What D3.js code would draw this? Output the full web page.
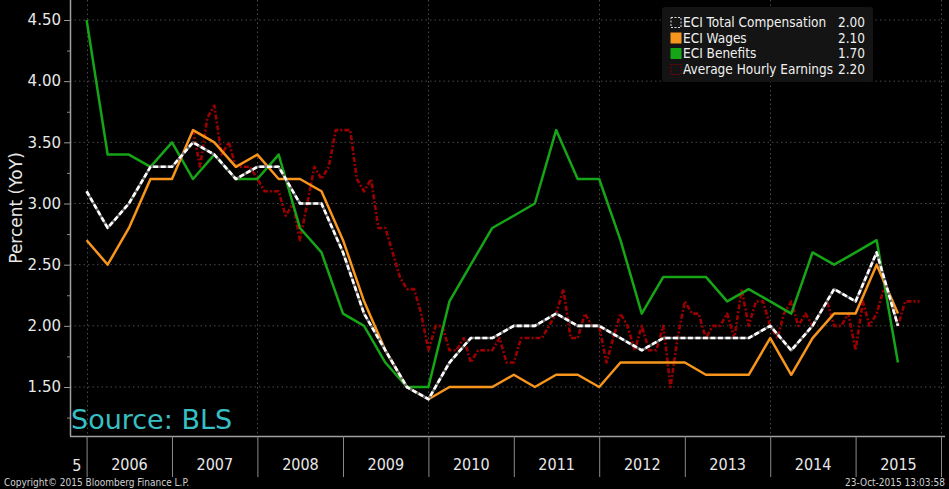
<!DOCTYPE html>
<html><head><meta charset="utf-8">
<script src="https://cdn.jsdelivr.net/npm/d3@7"></script>
<style>
html,body{margin:0;padding:0;background:#000;}
svg{display:block;}
.cond{font-family:"DejaVu Sans Condensed","DejaVu Sans",sans-serif;font-stretch:condensed;}
</style></head><body>
<svg id="c" width="949" height="489"></svg>
<script>
// ---------- data ----------
const eciQuarters = ["2005-12","2006-03","2006-06","2006-09","2006-12","2007-03","2007-06","2007-09","2007-12",
  "2008-03","2008-06","2008-09","2008-12","2009-03","2009-06","2009-09","2009-12","2010-03","2010-06","2010-09",
  "2010-12","2011-03","2011-06","2011-09","2011-12","2012-03","2012-06","2012-09","2012-12","2013-03","2013-06",
  "2013-09","2013-12","2014-03","2014-06","2014-09","2014-12","2015-03","2015-06"];
const totalComp = [3.1,2.8,3.0,3.3,3.3,3.5,3.4,3.2,3.3,3.3,3.0,3.0,2.6,2.1,1.8,1.5,1.4,1.7,1.9,1.9,
  2.0,2.0,2.1,2.0,2.0,1.9,1.8,1.9,1.9,1.9,1.9,1.9,2.0,1.8,2.0,2.3,2.2,2.6,2.0];
const wages = [2.7,2.5,2.8,3.2,3.2,3.6,3.5,3.3,3.4,3.2,3.2,3.1,2.7,2.2,1.8,1.5,1.4,1.5,1.5,1.5,
  1.6,1.5,1.6,1.6,1.5,1.7,1.7,1.7,1.7,1.6,1.6,1.6,1.9,1.6,1.9,2.1,2.1,2.5,2.1];
const benefits = [4.5,3.4,3.4,3.3,3.5,3.2,3.4,3.2,3.2,3.4,2.8,2.6,2.1,2.0,1.7,1.5,1.5,2.2,2.5,2.8,
  2.9,3.0,3.6,3.2,3.2,2.7,2.1,2.4,2.4,2.4,2.2,2.3,2.2,2.1,2.6,2.5,2.6,2.7,1.7];
const aheStartMonth = "2007-03";
const hourlyEarnings = [3.6,3.3,3.7,3.8,3.4,3.5,3.3,3.3,3.3,3.2,
  3.1,3.1,3.1,2.9,3.0,2.7,3.0,3.3,3.2,3.3,3.6,3.6,
  3.6,3.2,3.1,3.2,2.8,2.8,2.6,2.4,2.3,2.3,2.1,1.8,
  2.0,2.0,1.8,1.8,1.9,1.7,1.8,1.8,1.8,1.9,1.7,1.7,
  1.9,1.9,1.9,1.9,2.0,2.1,2.3,1.9,1.9,2.1,2.0,2.0,
  1.7,1.9,2.1,2.0,1.8,2.0,1.8,1.8,2.0,1.5,1.9,2.2,
  2.1,2.1,1.9,2.0,2.0,2.1,1.9,2.3,2.0,2.2,2.2,2.0,
  1.9,2.1,2.2,2.0,2.1,2.0,2.1,2.2,2.0,2.0,2.1,1.8,
  2.2,2.0,2.1,2.3,2.2,2.0,2.2,2.2,2.2];
const seriesNames = ["ECI Total Compensation","ECI Wages","ECI Benefits","Average Hourly Earnings"];
const lastValues = ["2.00","2.10","1.70","2.20"];
const yearLabels = ["2005","2006","2007","2008","2009","2010","2011","2012","2013","2014","2015"];
const yTickLabels = ["1.50","2.00","2.50","3.00","3.50","4.00","4.50"];

// ---------- setup ----------
const W = 949, H = 489;
const plotL = 70, plotB = 436, plotR = 945;
const svg = d3.select("#c");
svg.append("rect").attr("width", W).attr("height", H).attr("fill", "#000");

const parseM = d3.timeParse("%Y-%m");
const monthEnd = s => d3.timeMonth.offset(parseM(s), 1);
const x = d3.scaleTime().domain([new Date(2006,0,1), new Date(2016,0,1)]).range([86.6, 941]);
const y = d3.scaleLinear().domain([1.5, 4.5]).range([387, 20]);

const yTicks = yTickLabels.map(Number);
const yMinor = d3.range(1.25, 4.5, 0.5);

// grid
const grid = svg.append("g");
grid.selectAll("line.h").data(yTicks).join("line")
  .attr("x1", plotL).attr("x2", plotR).attr("y1", d => y(d)).attr("y2", d => y(d))
  .attr("stroke", "#4a4a4a").attr("stroke-width", 1).attr("stroke-dasharray", "1.5,3");
const gridYears = [2006,2008,2010,2012,2014,2016].map(yr => new Date(yr,0,1));
grid.selectAll("line.v").data(gridYears).join("line")
  .attr("x1", d => Math.round(x(d)) + 0.5).attr("x2", d => Math.round(x(d)) + 0.5)
  .attr("y1", 0).attr("y2", plotB)
  .attr("stroke", "#4a4a4a").attr("stroke-width", 1).attr("stroke-dasharray", "1.5,3");

// y axis
const yAxis = svg.append("g").attr("transform", `translate(${plotL},0)`)
  .call(d3.axisLeft(y).tickValues(yTicks).tickSize(6).tickPadding(3).tickFormat((d,i) => yTickLabels[i]));
yAxis.select(".domain").remove();
yAxis.selectAll("line").attr("stroke", "#9a9a9a");
yAxis.selectAll("text").attr("fill", "#e8e8e8").attr("font-size", 15)
  .attr("font-family", "DejaVu Sans, sans-serif");
const yMinorAxis = svg.append("g").attr("transform", `translate(${plotL},0)`)
  .call(d3.axisLeft(y).tickValues(yMinor).tickSize(3).tickFormat(""));
yMinorAxis.select(".domain").remove();
yMinorAxis.selectAll("line").attr("stroke", "#8a8a8a");

svg.append("text").attr("transform", "translate(22,208) rotate(-90)")
  .attr("text-anchor", "middle").attr("fill", "#e8e8e8")
  .attr("font-family", "DejaVu Sans, sans-serif").attr("font-size", 17)
  .text("Percent (YoY)");

// frame lines
svg.append("line").attr("x1", plotL + 0.5).attr("x2", plotL + 0.5).attr("y1", 0).attr("y2", plotB)
  .attr("stroke", "#a0a0a0").attr("stroke-width", 1.5);
svg.append("line").attr("x1", plotL).attr("x2", plotR).attr("y1", plotB + 0.5).attr("y2", plotB + 0.5)
  .attr("stroke", "#a0a0a0").attr("stroke-width", 1.5);

// x axis: year separators
const yearStarts = d3.range(2006, 2017).map(yr => new Date(yr,0,1));
const xSep = svg.append("g").attr("transform", `translate(0,${plotB})`)
  .call(d3.axisBottom(x).tickValues(yearStarts).tickSize(41).tickFormat(""));
xSep.select(".domain").remove();
xSep.selectAll("line").attr("stroke", "#8a8a8a");

// year labels at mid-year (clipped at the left edge of the plot)
svg.append("clipPath").attr("id", "xclip")
  .append("rect").attr("x", 72).attr("y", plotB).attr("width", plotR - 72).attr("height", 45);
const labWrap = svg.append("g").attr("clip-path", "url(#xclip)");
const midYears = yearLabels.map(s => new Date(+s, 6, 1));
const xLab = labWrap.append("g").attr("transform", `translate(0,${plotB})`)
  .call(d3.axisBottom(x).tickValues(midYears.slice(1)).tickSize(0).tickPadding(23)
    .tickFormat((d,i) => yearLabels[i+1]));
xLab.select(".domain").remove();
xLab.selectAll("text").attr("fill", "#e8e8e8").attr("font-size", 16).attr("class", "cond");
labWrap.append("text")
  .attr("x", 81.5).attr("y", plotB + 35).attr("text-anchor", "end")
  .attr("fill", "#e8e8e8").attr("font-size", 16).attr("class", "cond").text(yearLabels[0]);

// ---------- series ----------
const eciDates = eciQuarters.map(monthEnd);
const aheDates = hourlyEarnings.map((v,i) => d3.timeMonth.offset(parseM(aheStartMonth), i + 1));
const line = d3.line().x(d => x(d[0])).y(d => y(d[1]));
const lines = svg.append("g").attr("fill", "none").attr("stroke-linejoin", "round");

lines.append("path").datum(aheDates.map((d,i) => [d, hourlyEarnings[i]]))
  .attr("d", line).attr("stroke", "#9a0000").attr("stroke-width", 2.6)
  .attr("stroke-dasharray", "5,2,2,2");
lines.append("path").datum(eciDates.map((d,i) => [d, benefits[i]]))
  .attr("d", line).attr("stroke", "#16a516").attr("stroke-width", 2.5);
lines.append("path").datum(eciDates.map((d,i) => [d, wages[i]]))
  .attr("d", line).attr("stroke", "#f7951c").attr("stroke-width", 2.5);
lines.append("path").datum(eciDates.map((d,i) => [d, totalComp[i]]))
  .attr("d", line).attr("stroke", "#6e6e6e").attr("stroke-width", 2.6);
lines.append("path").datum(eciDates.map((d,i) => [d, totalComp[i]]))
  .attr("d", line).attr("stroke", "#ffffff").attr("stroke-width", 2.6)
  .attr("stroke-dasharray", "5,2.5");

// ---------- source ----------
svg.append("text").attr("x", 71).attr("y", 429).attr("fill", "#38bfc4")
  .attr("font-family", "DejaVu Sans, sans-serif").attr("font-size", 27).text("Source: BLS");

// ---------- legend ----------
const leg = svg.append("g");
leg.append("rect").attr("x", 662).attr("y", 7).attr("width", 211).attr("height", 75)
  .attr("rx", 3).attr("fill", "#141414");
const rowY = [22.5, 38, 53.5, 69.5];
const markers = [
  {fill:"none", stroke:"#dddddd", dash:"2,1.5"},
  {fill:"#f7951c", stroke:"#f7951c", dash:null},
  {fill:"#16a516", stroke:"#16a516", dash:null},
  {fill:"none", stroke:"#8a0000", dash:"1.5,1.5"}
];
seriesNames.forEach((name, i) => {
  const m = markers[i];
  leg.append("rect").attr("x", 671).attr("y", rowY[i] - 5).attr("width", 10).attr("height", 10)
    .attr("fill", m.fill).attr("stroke", m.stroke).attr("stroke-width", 1)
    .attr("stroke-dasharray", m.dash);
  leg.append("text").attr("x", 683).attr("y", rowY[i] + 4.5).attr("fill", "#f0f0f0")
    .attr("font-size", 13.5).attr("class", "cond").text(name);
  leg.append("text").attr("x", 865).attr("y", rowY[i] + 4.5).attr("fill", "#f0f0f0")
    .attr("text-anchor", "end").attr("font-size", 13.5).attr("class", "cond").text(lastValues[i]);
});

// ---------- footer ----------
svg.append("text").attr("x", 4).attr("y", 486).attr("fill", "#d0d0d0")
  .attr("font-size", 10).attr("class", "cond").text("Copyright\u00A9 2015 Bloomberg Finance L.P.");
svg.append("text").attr("x", 945).attr("y", 486).attr("text-anchor", "end").attr("fill", "#d0d0d0")
  .attr("font-size", 10).attr("class", "cond").text("23-Oct-2015 13:03:58");
</script>
</body></html>
